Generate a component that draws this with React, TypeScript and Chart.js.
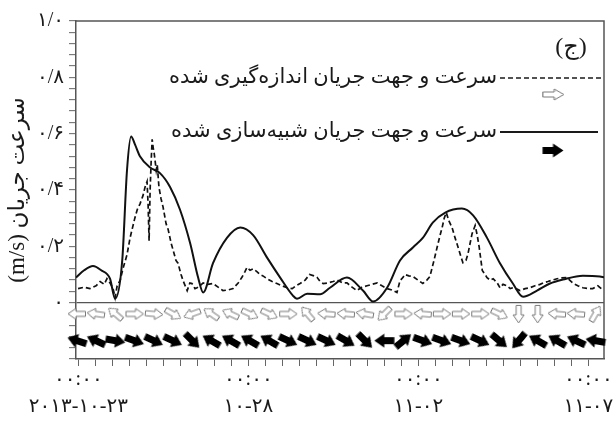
import React, { useEffect, useRef } from 'react';
import { Chart, registerables } from 'chart.js';
Chart.register(...registerables);

// x values are days since 2013-10-23 00:00
const xMin = -0.07;
const xMax = 15.46;
const xTickDays = [0, 5, 10, 15];
const xTickTimes = ['۰۰:۰۰', '۰۰:۰۰', '۰۰:۰۰', '۰۰:۰۰'];
const xTickDates = ['۲۰۱۳-۱۰-۲۳', '۱۰-۲۸', '۱۱-۰۲', '۱۱-۰۷'];
const yTickValues = [0, 0.2, 0.4, 0.6, 0.8, 1.0];
const yTickLabels = ['۰', '۰/۲', '۰/۴', '۰/۶', '۰/۸', '۱/۰'];

const yAxisTitle = '\u202Bسرعت جریان (m/s)\u202C';
const panelLabel = '(ج)';
const legendMeasured = 'سرعت و جهت جریان اندازه‌گیری شده';
const legendSimulated = 'سرعت و جهت جریان شبیه‌سازی شده';

// simulated speed (solid)
const simDays = [-0.07, 0.17, 0.43, 0.67, 0.93, 1.08, 1.29, 1.43, 1.55, 1.67, 1.81, 2.11, 2.40, 2.70, 2.99, 3.29, 3.52, 3.67, 3.96, 4.37, 4.76, 5.14, 5.55, 5.93, 6.31, 6.43, 6.73, 7.11, 7.40, 7.90, 8.37, 8.67, 9.08, 9.46, 9.84, 10.13, 10.43, 10.79, 11.28, 11.61, 12.02, 12.40, 12.78, 13.08, 13.49, 13.87, 14.25, 14.84, 15.34, 15.46];
const simSpeed = [0.089, 0.115, 0.13, 0.115, 0.085, 0.014, 0.15, 0.47, 0.59, 0.56, 0.52, 0.48, 0.46, 0.41, 0.33, 0.21, 0.09, 0.036, 0.14, 0.23, 0.267, 0.24, 0.16, 0.09, 0.025, 0.014, 0.032, 0.03, 0.053, 0.089, 0.043, 0.004, 0.053, 0.15, 0.196, 0.23, 0.285, 0.32, 0.334, 0.31, 0.23, 0.14, 0.068, 0.021, 0.043, 0.068, 0.082, 0.096, 0.093, 0.09];

// measured speed (dashed)
const measDays = [-0.01, 0.17, 0.34, 0.52, 0.64, 0.76, 0.84, 0.93, 1.02, 1.08, 1.14, 1.23, 1.31, 1.43, 1.52, 1.58, 1.66, 1.73, 1.81, 1.90, 1.96, 2.02, 2.05, 2.08, 2.11, 2.14, 2.17, 2.20, 2.23, 2.29, 2.32, 2.37, 2.43, 2.49, 2.58, 2.64, 2.73, 2.79, 2.87, 2.93, 3.02, 3.08, 3.20, 3.28, 3.34, 3.43, 3.49, 3.58, 3.67, 3.81, 3.96, 4.11, 4.25, 4.40, 4.55, 4.70, 4.81, 4.90, 4.96, 5.05, 5.14, 5.25, 5.34, 5.43, 5.55, 5.70, 5.84, 5.99, 6.14, 6.29, 6.40, 6.52, 6.67, 6.80, 6.93, 7.02, 7.11, 7.20, 7.34, 7.49, 7.62, 7.77, 7.90, 8.05, 8.19, 8.34, 8.49, 8.64, 8.79, 8.93, 9.08, 9.22, 9.37, 9.46, 9.55, 9.60, 9.72, 9.84, 9.99, 10.13, 10.25, 10.34, 10.46, 10.55, 10.64, 10.70, 10.76, 10.82, 10.90, 10.99, 11.08, 11.17, 11.26, 11.31, 11.40, 11.46, 11.52, 11.58, 11.67, 11.73, 11.79, 11.88, 11.96, 12.02, 12.11, 12.20, 12.32, 12.40, 12.49, 12.61, 12.70, 12.78, 12.90, 12.99, 13.14, 13.28, 13.43, 13.58, 13.67, 13.81, 13.93, 14.08, 14.22, 14.37, 14.45, 14.56, 14.69, 14.84, 14.99, 15.13, 15.28, 15.43];
const measSpeed = [0.05, 0.055, 0.05, 0.06, 0.075, 0.065, 0.085, 0.07, 0.05, 0.018, 0.06, 0.08, 0.12, 0.17, 0.23, 0.26, 0.30, 0.33, 0.35, 0.38, 0.41, 0.43, 0.35, 0.22, 0.40, 0.50, 0.58, 0.55, 0.53, 0.47, 0.49, 0.41, 0.37, 0.34, 0.28, 0.26, 0.21, 0.185, 0.15, 0.14, 0.10, 0.078, 0.043, 0.07, 0.068, 0.05, 0.053, 0.06, 0.07, 0.065, 0.068, 0.055, 0.043, 0.045, 0.05, 0.07, 0.09, 0.11, 0.125, 0.115, 0.12, 0.11, 0.10, 0.095, 0.085, 0.075, 0.068, 0.06, 0.053, 0.05, 0.06, 0.068, 0.08, 0.10, 0.095, 0.09, 0.075, 0.068, 0.07, 0.075, 0.08, 0.07, 0.07, 0.055, 0.043, 0.055, 0.06, 0.065, 0.07, 0.06, 0.05, 0.045, 0.036, 0.078, 0.09, 0.10, 0.095, 0.093, 0.08, 0.068, 0.08, 0.093, 0.15, 0.196, 0.24, 0.267, 0.30, 0.32, 0.29, 0.267, 0.23, 0.196, 0.16, 0.142, 0.15, 0.174, 0.21, 0.245, 0.274, 0.24, 0.196, 0.114, 0.10, 0.089, 0.08, 0.085, 0.07, 0.053, 0.065, 0.06, 0.05, 0.053, 0.048, 0.043, 0.05, 0.053, 0.06, 0.065, 0.07, 0.075, 0.08, 0.085, 0.088, 0.089, 0.08, 0.068, 0.06, 0.053, 0.05, 0.05, 0.06, 0.045];

// direction arrows (angles in degrees, counter-clockwise from east)
const arrowDays = [-0.04, 0.52, 1.09, 1.65, 2.22, 2.78, 3.35, 3.91, 4.48, 5.04, 5.61, 6.17, 6.74, 7.30, 7.87, 8.43, 9.00, 9.56, 10.13, 10.69, 11.25, 11.82, 12.38, 12.95, 13.51, 14.08, 14.64, 15.21];
const measArrowDir = [180, 172, 140, 0, -5, -30, 200, 145, 155, -25, -25, 0, 130, 175, 175, 170, 225, 0, 175, 0, 0, 0, -25, -90, -90, 175, 175, 60];
const simArrowDir = [162, 155, -10, -20, -25, -25, -45, 150, 150, 150, 150, -25, -25, -25, -30, -45, 180, 40, -20, -20, -20, -25, -40, 230, 150, 150, 155, 170];
const measArrowRow = -0.04;
const simArrowRow = -0.135;

const FONT = '"Liberation Serif", "DejaVu Sans", serif';

function makeOpenArrow(): HTMLCanvasElement {
  const c = document.createElement('canvas');
  c.width = 20; c.height = 13;
  const g = c.getContext('2d')!;
  g.beginPath();
  g.moveTo(1.5, 4); g.lineTo(11, 4); g.lineTo(11, 1); g.lineTo(19, 6.5);
  g.lineTo(11, 12); g.lineTo(11, 9); g.lineTo(1.5, 9); g.closePath();
  g.fillStyle = '#ffffff'; g.fill();
  g.strokeStyle = '#7a7a7a'; g.lineWidth = 1; g.stroke();
  return c;
}

function makeSolidArrow(): HTMLCanvasElement {
  const c = document.createElement('canvas');
  c.width = 21; c.height = 15;
  const g = c.getContext('2d')!;
  g.beginPath();
  g.moveTo(0.5, 4); g.lineTo(10.5, 4); g.lineTo(10.5, 0.5); g.lineTo(20.5, 7.5);
  g.lineTo(10.5, 14.5); g.lineTo(10.5, 11); g.lineTo(0.5, 11); g.closePath();
  g.fillStyle = '#000000'; g.fill();
  return c;
}

export default function App() {
  const ref = useRef<HTMLCanvasElement>(null);
  useEffect(() => {
    const openImg = makeOpenArrow();
    const solidImg = makeSolidArrow();

    const frame = {
      id: 'frame',
      beforeDatasetsDraw(chart: any) {
        const { ctx, chartArea: a } = chart;
        ctx.save();
        ctx.strokeStyle = '#555';
        ctx.lineWidth = 1.5;
        ctx.beginPath();
        ctx.moveTo(a.left, a.top); ctx.lineTo(a.right, a.top); ctx.lineTo(a.right, a.bottom);
        ctx.stroke();
        ctx.restore();
      },
    };

    const annot = {
      id: 'annot',
      afterDraw(chart: any) {
        const { ctx, chartArea: a } = chart;
        ctx.save();
        ctx.fillStyle = '#1a1a1a';
        ctx.textBaseline = 'middle';
        ctx.font = '24px ' + FONT;
        ctx.textAlign = 'center';
        ctx.fillText(panelLabel, a.right - 33, a.top + 27);
        ctx.font = '21px ' + FONT;
        ctx.textAlign = 'right';
        ctx.direction = 'rtl';
        ctx.fillText(legendMeasured, a.right - 107, a.top + 56);
        ctx.fillText(legendSimulated, a.right - 107, a.top + 110);
        ctx.strokeStyle = '#1a1a1a';
        ctx.lineWidth = 1.6;
        ctx.setLineDash([5, 3]);
        ctx.beginPath();
        ctx.moveTo(a.right - 104, a.top + 57); ctx.lineTo(a.right - 3, a.top + 57);
        ctx.stroke();
        ctx.setLineDash([]);
        ctx.lineWidth = 2;
        ctx.beginPath();
        ctx.moveTo(a.right - 104, a.top + 111); ctx.lineTo(a.right - 6, a.top + 111);
        ctx.stroke();
        ctx.drawImage(openImg, a.right - 63, a.top + 67, 24, 13);
        ctx.drawImage(solidImg, a.right - 62, a.top + 122, 22, 15);
        ctx.restore();
      },
    };

    const chart = new Chart(ref.current!, {
      type: 'line',
      data: {
        datasets: [
          {
            label: legendSimulated,
            data: simDays.map((d, i) => ({ x: d, y: simSpeed[i] })),
            borderColor: '#111',
            borderWidth: 2,
            pointRadius: 0,
            cubicInterpolationMode: 'monotone',
          },
          {
            label: legendMeasured,
            data: measDays.map((d, i) => ({ x: d, y: measSpeed[i] })),
            borderColor: '#111',
            borderWidth: 1.7,
            borderDash: [5, 3],
            pointRadius: 0,
            tension: 0,
          },
          {
            type: 'scatter',
            label: 'measured direction',
            data: arrowDays.map((d) => ({ x: d, y: measArrowRow })),
            pointStyle: openImg,
            pointRotation: measArrowDir.map((a) => -a),
            pointRadius: 9,
            showLine: false,
            clip: false,
          } as any,
          {
            type: 'scatter',
            label: 'simulated direction',
            data: arrowDays.map((d) => ({ x: d, y: simArrowRow })),
            pointStyle: solidImg,
            pointRotation: simArrowDir.map((a) => -a),
            pointRadius: 9,
            showLine: false,
            clip: false,
          } as any,
        ],
      },
      options: {
        animation: false,
        responsive: false,
        devicePixelRatio: 1,
        layout: { padding: { top: 21, right: 36, bottom: 1, left: 4 } },
        plugins: { legend: { display: false }, tooltip: { enabled: false } },
        scales: {
          x: {
            type: 'linear',
            min: xMin,
            max: xMax,
            border: { color: '#555', width: 1.5 },
            grid: { drawOnChartArea: false, tickLength: 7, tickColor: '#666', tickWidth: 1 },
            ticks: {
              stepSize: 0.5,
              includeBounds: false,
              autoSkip: false,
              maxRotation: 0,
              minRotation: 0,
              padding: 0,
              color: '#1a1a1a',
              font: { family: FONT, size: 20, lineHeight: 1.35 },
              callback: (v: any) => {
                const i = xTickDays.findIndex((t) => Math.abs(t - v) < 1e-9);
                return i >= 0 ? [xTickTimes[i], xTickDates[i]] : '';
              },
            },
          },
          y: {
            type: 'linear',
            min: -0.2,
            max: 1.0,
            afterFit: (s: any) => { s.width = 72; },
            border: { color: '#555', width: 1.5 },
            grid: {
              color: (c: any) => (c.tick && Math.abs(c.tick.value) < 1e-9 ? '#555' : 'rgba(0,0,0,0)'),
              lineWidth: 1.3,
              tickLength: 7,
              tickColor: '#666',
              tickWidth: 1,
            },
            ticks: {
              stepSize: 0.04,
              autoSkip: false,
              padding: 5,
              color: '#1a1a1a',
              font: { family: FONT, size: 20 },
              callback: (v: any) => {
                const i = yTickValues.findIndex((t) => Math.abs(t - v) < 1e-9);
                return i >= 0 ? yTickLabels[i] : '';
              },
            },
            title: {
              display: true,
              text: yAxisTitle,
              color: '#1a1a1a',
              font: { family: FONT, size: 23 },
              padding: { top: 0, bottom: 4 },
            },
          },
        },
      },
      plugins: [frame, annot],
    } as any);
    return () => chart.destroy();
  }, []);

  return (
    <div style={{ position: 'fixed', left: 0, top: 0, width: 615, height: 421, overflow: 'hidden', background: '#fff' }}>
      <canvas ref={ref} width={640} height={421} style={{ display: 'block' }} />
    </div>
  );
}
